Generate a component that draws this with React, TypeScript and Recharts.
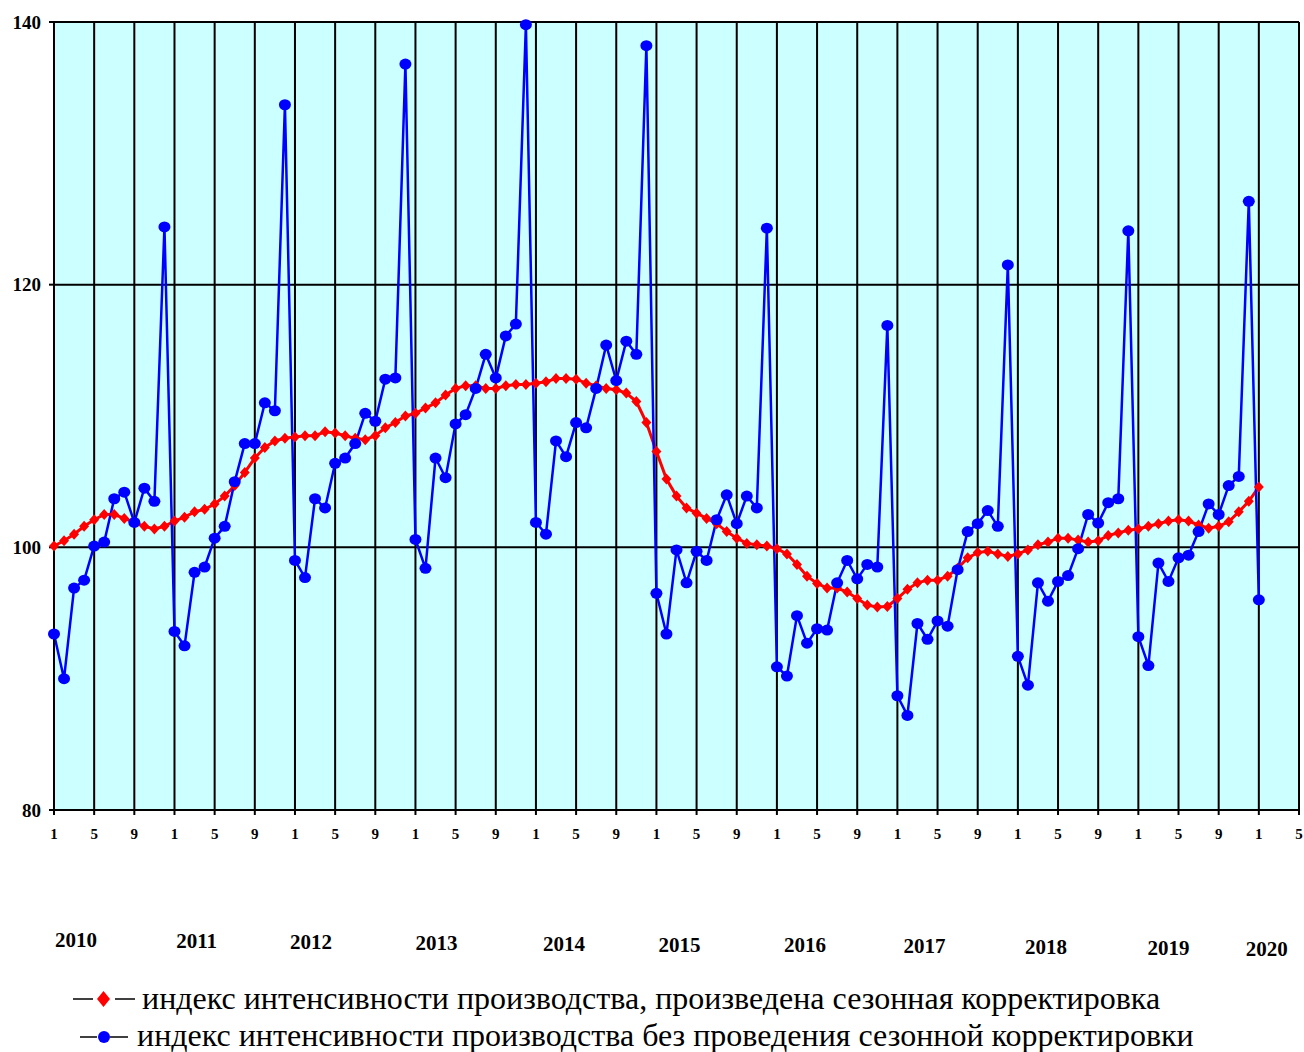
import React from "react";
import {
  LineChart,
  Line,
  XAxis,
  YAxis,
  CartesianGrid,
} from "recharts";

// Jan 2010 .. Jan 2020, one value per month
const adjusted = [
  100.1, 100.5, 101.0, 101.6, 102.1, 102.5, 102.5, 102.2, 101.9, 101.6, 101.4, 101.6,
  102.0, 102.3, 102.7, 102.9, 103.3, 103.9, 104.7, 105.7, 106.8, 107.6, 108.1, 108.3,
  108.4, 108.5, 108.5, 108.8, 108.7, 108.5, 108.3, 108.2, 108.5, 109.1, 109.5, 110.0,
  110.2, 110.6, 111.0, 111.6, 112.1, 112.3, 112.3, 112.1, 112.1, 112.3, 112.4, 112.4,
  112.5, 112.6, 112.85, 112.85, 112.8, 112.5, 112.3, 112.1, 112.0, 111.75, 111.1, 109.5,
  107.3, 105.2, 103.9, 103.0, 102.6, 102.2, 101.8, 101.2, 100.7, 100.3, 100.2, 100.1,
  99.9, 99.5, 98.7, 97.8, 97.25, 96.9, 96.9, 96.6, 96.1, 95.6, 95.45, 95.5,
  96.1, 96.8, 97.3, 97.5, 97.5, 97.8, 98.4, 99.2, 99.6, 99.7, 99.5, 99.3,
  99.5, 99.8, 100.2, 100.4, 100.7, 100.7, 100.55, 100.4, 100.5, 100.9, 101.1, 101.3,
  101.4, 101.6, 101.8, 102.0, 102.1, 102.0, 101.7, 101.45, 101.6, 101.95, 102.7, 103.5,
  104.6,
];

const unadjusted = [
  93.4, 90.0, 96.9, 97.5, 100.1, 100.4, 103.7, 104.2, 101.9, 104.5, 103.5, 124.4,
  93.6, 92.5, 98.1, 98.5, 100.7, 101.6, 105.0, 107.9, 107.9, 111.0, 110.4, 133.7,
  99.0, 97.7, 103.7, 103.0, 106.4, 106.8, 107.9, 110.2, 109.6, 112.8, 112.9, 136.8,
  100.6, 98.4, 106.8, 105.3, 109.4, 110.1, 112.1, 114.7, 112.9, 116.1, 117.0, 139.8,
  101.9, 101.0, 108.1, 106.9, 109.5, 109.1, 112.1, 115.4, 112.7, 115.7, 114.7, 138.2,
  96.5, 93.4, 99.8, 97.3, 99.7, 99.0, 102.1, 104.0, 101.8, 103.9, 103.0, 124.3,
  90.9, 90.2, 94.8, 92.7, 93.8, 93.7, 97.3, 99.0, 97.6, 98.7, 98.5, 116.9,
  88.7, 87.2, 94.2, 93.0, 94.4, 94.0, 98.3, 101.2, 101.8, 102.8, 101.6, 121.5,
  91.7, 89.5, 97.3, 95.9, 97.4, 97.85, 99.9, 102.5, 101.85, 103.4, 103.7, 124.1,
  93.2, 91.0, 98.8, 97.4, 99.2, 99.4, 101.2, 103.3, 102.5, 104.7, 105.4, 126.35,
  96.0,
];

const years = [2010, 2011, 2012, 2013, 2014, 2015, 2016, 2017, 2018, 2019, 2020];
// month offset of each year caption inside its year (as drawn in the original)
const yearCaptionOffset = [2.2, 2.2, 1.6, 2.1, 2.8, 2.3, 2.8, 2.7, 2.8, 3.0, 0.8];

const monthTicks = Array.from({ length: 32 }, (_, i) => i * 4); // Jan 2010 .. May 2020
const yTicks = [80, 100, 120, 140];

const legendAdjusted =
  "индекс интенсивности производства, произведена сезонная корректировка";
const legendRaw =
  "индекс интенсивности производства без проведения сезонной корректировки";

const data = adjusted.map((v, i) => ({ m: i, adj: v, raw: unadjusted[i] }));

const FONT = '"Liberation Serif", "Times New Roman", Tinos, serif';
const PLOT_LEFT = 54;
const PLOT_RIGHT = 1299;
const X_MAX = 124;

function Diamond(props: any) {
  const { cx, cy } = props;
  if (cx == null || cy == null) return null;
  return (
    <path
      d={`M${cx},${cy - 5.5} L${cx + 5},${cy} L${cx},${cy + 5.5} L${cx - 5},${cy} Z`}
      fill="#ff0000"
    />
  );
}

function Dot(props: any) {
  const { cx, cy } = props;
  if (cx == null || cy == null) return null;
  return <ellipse cx={cx} cy={cy} rx={6} ry={5.5} fill="#0000ff" />;
}

const legendText: React.CSSProperties = {
  position: "absolute",
  fontSize: 32,
  lineHeight: "36px",
  whiteSpace: "nowrap",
};

export default function App() {
  const xFor = (m: number) => PLOT_LEFT + (m / X_MAX) * (PLOT_RIGHT - PLOT_LEFT);

  return (
    <div
      style={{
        position: "absolute",
        left: 0,
        top: 0,
        width: 1304,
        height: 1052,
        background: "#fff",
        fontFamily: FONT,
      }}
    >
      <LineChart
        width={1304}
        height={870}
        data={data}
        margin={{ top: 22, right: 5, left: 0, bottom: 0 }}
      >
        <CartesianGrid
          stroke="#000"
          strokeWidth={2}
          fill="#ccffff"
          fillOpacity={1}
        />
        <XAxis
          dataKey="m"
          type="number"
          domain={[0, X_MAX]}
          ticks={monthTicks}
          interval={0}
          tickFormatter={(m: number) => String((m % 12) + 1)}
          height={60}
          tickSize={5}
          tickMargin={13}
          stroke="#000"
          strokeWidth={2}
          tick={{ fontSize: 15, fontWeight: "bold", fill: "#000", fontFamily: FONT }}
        />
        <YAxis
          domain={[80, 140]}
          ticks={yTicks}
          width={54}
          interval={0}
          tickSize={5}
          tickMargin={8}
          stroke="#000"
          strokeWidth={2}
          tick={{ fontSize: 19, fontWeight: "bold", fill: "#000", fontFamily: FONT }}
        />
        <Line
          dataKey="adj"
          stroke="#ff0000"
          strokeWidth={3}
          dot={<Diamond />}
          activeDot={false}
          isAnimationActive={false}
        />
        <Line
          dataKey="raw"
          stroke="#0000ff"
          strokeWidth={2.5}
          dot={<Dot />}
          activeDot={false}
          isAnimationActive={false}
        />
      </LineChart>

      {years.map((y, i) => (
        <div
          key={y}
          style={{
            position: "absolute",
            left: xFor(i * 12 + yearCaptionOffset[i]) - 40,
            width: 80,
            top: 940 + i * 0.9 - 12,
            lineHeight: "24px",
            textAlign: "center",
            fontSize: 21,
            fontWeight: "bold",
          }}
        >
          {y}
        </div>
      ))}

      <svg
        width={140}
        height={72}
        style={{ position: "absolute", left: 0, top: 980 }}
      >
        <line x1={73} y1={19} x2={93} y2={19} stroke="#000" strokeWidth={1.5} />
        <path d="M103.5,11 L110,19 L103.5,27 L97,19 Z" fill="#ff0000" />
        <line x1={115} y1={19} x2={135} y2={19} stroke="#000" strokeWidth={1.5} />

        <line x1={80} y1={57} x2={97} y2={57} stroke="#000" strokeWidth={1.5} />
        <circle cx={104} cy={57} r={6} fill="#0000ff" />
        <line x1={110} y1={57} x2={128} y2={57} stroke="#000" strokeWidth={1.5} />
      </svg>
      <div style={{ ...legendText, left: 142, top: 980 }}>{legendAdjusted}</div>
      <div style={{ ...legendText, left: 137, top: 1017 }}>{legendRaw}</div>
    </div>
  );
}
